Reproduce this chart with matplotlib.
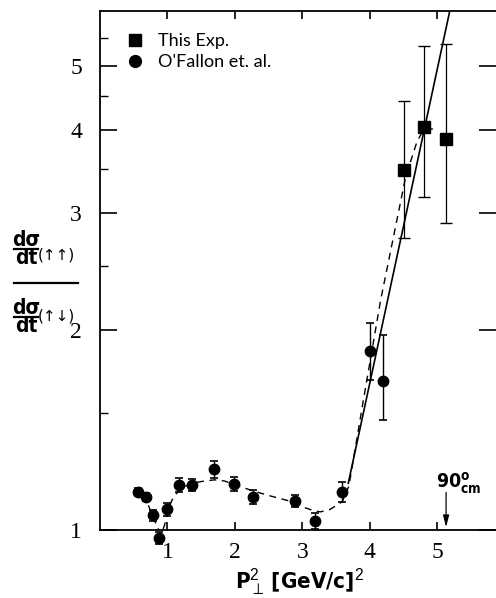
import matplotlib
matplotlib.use("Agg")
import matplotlib.pyplot as plt
from matplotlib.lines import Line2D
from matplotlib.ticker import FixedLocator, NullFormatter, FixedFormatter

plt.rcParams['mathtext.fontset'] = 'custom'
plt.rcParams['mathtext.bf'] = 'DejaVu Sans:weight=bold:stretch=condensed'
plt.rcParams['mathtext.rm'] = 'Liberation Sans'
plt.rcParams['mathtext.fallback'] = 'cm'

# O'Fallon et. al. (circles)
of_x = [0.57, 0.68, 0.78, 0.88, 0.99, 1.17, 1.37, 1.69, 1.99, 2.27, 2.89, 3.19, 3.59, 4.00, 4.20]
of_y = [1.14, 1.12, 1.053, 0.972, 1.074, 1.169, 1.169, 1.234, 1.172, 1.12, 1.107, 1.033, 1.142, 1.86, 1.677]
of_err_lo = [0.016, 0.016, 0.02, 0.02, 0.026, 0.028, 0.025, 0.036, 0.028, 0.027, 0.023, 0.028, 0.04, 0.18, 0.21]
of_err_hi = [0.016, 0.016, 0.02, 0.02, 0.026, 0.028, 0.025, 0.036, 0.028, 0.027, 0.023, 0.028, 0.04, 0.19, 0.29]

# This Exp. (squares)
ex_x = [4.51, 4.81, 5.13]
ex_y = [3.485, 4.04, 3.88]
ex_err_lo = [0.73, 0.87, 0.98]
ex_err_hi = [0.945, 1.32, 1.51]

# dashed guide curve
dash_x = [0.62, 0.70, 0.78, 0.85, 0.91, 0.96, 1.00, 1.09, 1.20, 1.35, 1.54, 1.70, 1.85, 2.00, 2.27,
          2.53, 2.82, 3.02, 3.17, 3.27, 3.41, 3.59, 3.69, 3.90, 4.16, 4.53, 4.70, 4.80, 4.95]
dash_y = [1.13, 1.10, 1.05, 1.01, 0.985, 1.02, 1.07, 1.122, 1.155, 1.175, 1.185, 1.19, 1.185, 1.17, 1.145,
          1.125, 1.105, 1.082, 1.069, 1.065, 1.074, 1.103, 1.165, 1.56, 2.22, 3.40, 3.85, 4.01, 4.02]

# solid straight fit (exponential)
fit_x = [3.68, 5.18]
fit_y = [1.176, 6.02]

yticks = [1, 2, 3, 4, 5]
yminor = [1.5, 2.5, 3.5, 4.5, 5.5]
xticks = [1, 2, 3, 4, 5]

W, H = 496, 598
def fx(px): return px / W
def fy(py): return 1 - py / H

cond = dict(family='DejaVu Sans', fontstretch='condensed', fontweight='bold')

fig = plt.figure(figsize=(4.96, 5.98), dpi=100)
ax = fig.add_axes([fx(100), fy(530), 396 / W, 519 / H])
ax.set_yscale('log')
ax.set_xlim(0, 5.87)
ax.set_ylim(1.0, 6.05)

ax.plot(dash_x, dash_y, color='black', lw=1.0, ls=(0, (5, 4)))
ax.plot(fit_x, fit_y, color='black', lw=1.2)

ax.errorbar(of_x, of_y, yerr=[of_err_lo, of_err_hi], fmt='o', color='black', ms=7.5,
            elinewidth=1.0, capsize=3, capthick=1.2, clip_on=False)
ax.errorbar(ex_x, ex_y, yerr=[ex_err_lo, ex_err_hi], fmt='s', color='black', ms=8.5,
            elinewidth=0.9, capsize=4, capthick=1.0, clip_on=False)

ax.spines['right'].set_visible(False)
for s in ['left', 'bottom', 'top']:
    ax.spines[s].set_linewidth(1.3)

ax.yaxis.set_major_locator(FixedLocator(yticks))
ax.yaxis.set_major_formatter(FixedFormatter([str(t) for t in yticks]))
ax.yaxis.set_minor_locator(FixedLocator(yminor))
ax.yaxis.set_minor_formatter(NullFormatter())
ax.set_xticks(xticks)
ax.set_xticklabels([str(t) for t in xticks])

ax.tick_params(axis='y', which='major', direction='in', length=12, width=1.2, pad=13,
               labelsize=17, left=True, right=True)
ax.tick_params(axis='y', which='minor', direction='in', length=6, width=1.0, right=False)
ax.tick_params(axis='x', which='major', direction='in', length=6, width=1.2, pad=9,
               labelsize=17, top=True)
for lab in ax.get_xticklabels() + ax.get_yticklabels():
    lab.set_family('Liberation Serif')

# legend with plain markers
hs = [Line2D([], [], marker='s', ls='none', color='black', ms=9),
      Line2D([], [], marker='o', ls='none', color='black', ms=8.5)]
ax.legend(hs, ['This Exp.', "O'Fallon et. al."], loc='upper left',
          bbox_to_anchor=(fx(126), fy(33)), bbox_transform=fig.transFigure,
          frameon=False, borderpad=0, borderaxespad=0, handlelength=1.0,
          handletextpad=0.8, labelspacing=0.3, prop={'family': 'Lato', 'size': 13})

# 90 deg cm arrow
ax.annotate('', xy=(5.13, 1.0), xytext=(5.13, 1.15),
            arrowprops=dict(arrowstyle='-|>,head_length=0.7,head_width=0.18', color='black', lw=0.9))
fig.text(fx(436), fy(488), r'$\mathbf{90}^{\mathbf{o}}_{\mathbf{cm}}$', fontsize=14,
         va='baseline', ha='left')

# x label
fig.text(fx(300), fy(588), r'$\mathbf{P}_{\perp}^{2}\,\mathbf{[GeV/c]}^{2}$', fontsize=16,
         va='baseline', ha='center')

# y label: ratio of d sigma/dt
def small_frac(cy):
    fig.text(fx(26), fy(cy - 3), 'd\u03c3', fontsize=15, va='baseline', ha='center', **cond)
    fig.add_artist(Line2D([fx(14), fx(38)], [fy(cy), fy(cy)], color='black', lw=1.6))
    fig.text(fx(26), fy(cy + 15), 'dt', fontsize=15, va='baseline', ha='center', **cond)

small_frac(249)
fig.text(fx(38), fy(255), '(\u2191\u2191)', fontsize=11, va='center', ha='left', family='DejaVu Sans')
fig.add_artist(Line2D([fx(14), fx(78)], [fy(283), fy(283)], color='black', lw=1.6))
small_frac(317)
fig.text(fx(38), fy(316), '(\u2191\u2193)', fontsize=11, va='center', ha='left', family='DejaVu Sans')

fig.savefig('out.png', dpi=100)
